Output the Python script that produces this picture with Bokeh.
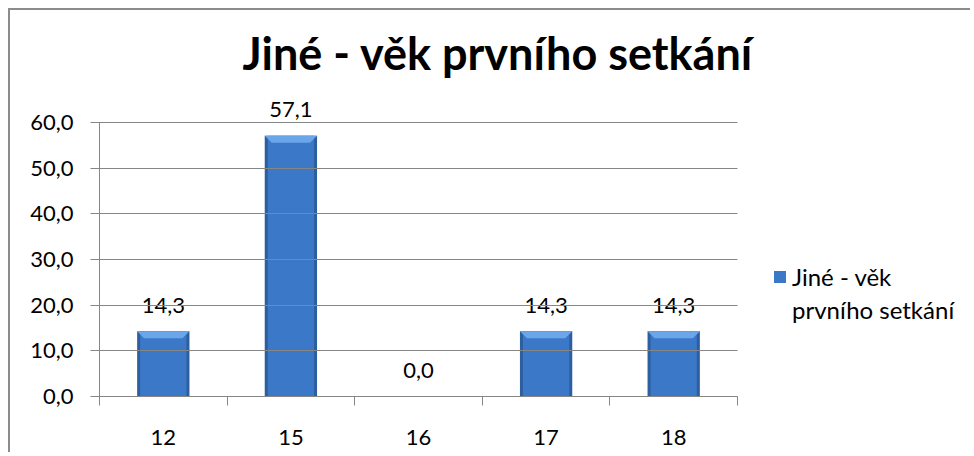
from bokeh.plotting import figure
from bokeh.models import (Range1d, LinearAxis, FixedTicker, Legend, LegendItem,
                          ColumnDataSource, CustomJSTickFormatter)
from bokeh.core.properties import value
from bokeh.embed import file_html
from bokeh.resources import INLINE

# ---- data ----
categories = ["12", "15", "16", "17", "18"]
values = [14.3, 57.1, 0.0, 14.3, 14.3]
value_labels = ["14,3", "57,1", "0,0", "14,3", "14,3"]
y_ticks = [0, 10, 20, 30, 40, 50, 60]
y_tick_labels = ["0,0", "10,0", "20,0", "30,0", "40,0", "50,0", "60,0"]
title_text = "Jiné - věk prvního setkání"
legend_lines = ["Jiné - věk", "prvního setkání"]

FONT = "Lato"
GRID = "#868686"
N = len(categories)
centers = [i + 0.5 for i in range(N)]

W, H = 962, 444
ML = 89
PLOT_W = 638                      # width of the category area in px
FW = W - ML                       # frame runs to the right edge (legend lives inside)
XMAX = N * FW / PLOT_W
PX_PER_10 = 274 / 6.0
EXT = 30
FH = 274 + EXT
YMAX = 60 + EXT / PX_PER_10 * 10
MT = 82
MB = H - MT - FH

p = figure(width=W, height=H, output_backend="svg", toolbar_location=None,
           x_range=Range1d(0, XMAX), y_range=Range1d(0, YMAX),
           x_axis_location=None, y_axis_location=None,
           min_border_left=ML, min_border_top=MT,
           min_border_right=0, min_border_bottom=MB,
           margin=(8, 0, 0, 8),
           styles={"border-top": "2px solid #8c8c8c", "border-left": "2px solid #8c8c8c"})
p.outline_line_color = None
p.background_fill_color = "white"
p.border_fill_color = "white"
p.xgrid.visible = False
p.ygrid.visible = False

# title
p.title.text = title_text
p.title.align = "left"
p.title.offset = 143
p.title.text_font = FONT
p.title.text_font_size = "45px"
p.title.text_font_style = "bold"
p.title.text_color = "black"
p.title.vertical_align = "bottom"
p.title.standoff = 26

# y axis; its ticks reach across the category area as the gridlines
yax = LinearAxis(ticker=FixedTicker(ticks=y_ticks), bounds=(0, 60),
                 major_label_overrides={t: l for t, l in zip(y_ticks, y_tick_labels)})
yax.axis_line_color = GRID
yax.major_tick_line_color = GRID
yax.major_tick_in = PLOT_W
yax.major_tick_out = 9
yax.minor_tick_line_color = None
yax.major_label_standoff = 17
yax.major_label_text_font = FONT
yax.major_label_text_font_size = "22px"
yax.major_label_text_color = "black"
p.add_layout(yax, "left")

# x tick-mark axis (category boundaries)
tax = LinearAxis(ticker=FixedTicker(ticks=list(range(N + 1))), bounds=(0, N))
tax.axis_line_color = GRID
tax.major_tick_line_color = GRID
tax.major_tick_in = 0
tax.major_tick_out = 9
tax.minor_tick_line_color = None
tax.major_label_text_font_size = "0px"
tax.major_label_standoff = 0
p.add_layout(tax, "below")

# category label axis
cax = LinearAxis(ticker=FixedTicker(ticks=centers),
                 formatter=CustomJSTickFormatter(args=dict(cats=categories),
                                                 code="return cats[Math.floor(tick)];"))
cax.axis_line_color = None
cax.major_tick_line_color = None
cax.minor_tick_line_color = None
cax.major_label_standoff = 18
cax.major_label_text_font = FONT
cax.major_label_text_font_size = "22px"
cax.major_label_text_color = "black"
p.add_layout(cax, "below")

src = ColumnDataSource(dict(x=centers, val=values, lab=value_labels))

BW = 0.41
edge_px = 3.0
px_x = PLOT_W / N
px_y = PX_PER_10 / 10
outer = p.vbar(x="x", top="val", width=BW, source=src,
               fill_color="#2D5E9F", line_color=None)
inner = p.vbar(x="x", top="val", width=BW - 2 * edge_px / px_x,
               source=src, fill_color="#3B78C8", line_color=None)

# top bevel derived from the bar values
hw = BW / 2
ddx = 7.0 / px_x
ddy = 7.0 / px_y
xs, ys = [], []
for cx, v in zip(centers, values):
    if v <= 0:
        continue
    xs.append([cx - hw, cx + hw, cx + hw - ddx, cx - hw + ddx])
    ys.append([v, v, v - ddy, v - ddy])
p.patches(xs, ys, fill_color="#6BA6EA", line_color=None)

# data labels
p.text(x="x", y="val", text="lab", source=src, text_align="center",
       text_baseline="alphabetic", y_offset=-26, text_font=value(FONT),
       text_font_size="22px", text_color="black")

# legend (second line as a glyph-less item)
blank = p.vbar(x=[], top=[], width=0.1, fill_alpha=0, line_alpha=0)
leg = Legend(items=[LegendItem(label=legend_lines[0], renderers=[inner]),
                    LegendItem(label=legend_lines[1], renderers=[blank])],
             location=(PLOT_W + 35, 72))
leg.padding = 0
leg.margin = 0
leg.spacing = 3
leg.border_line_color = None
leg.background_fill_alpha = 0
leg.glyph_width = 15
leg.glyph_height = 15
leg.label_height = 30
leg.label_standoff = 5
leg.label_text_font = FONT
leg.label_text_font_size = "24px"
leg.label_text_color = "black"
p.add_layout(leg, "center")

open("out.html", "w").write(file_html(p, INLINE))
